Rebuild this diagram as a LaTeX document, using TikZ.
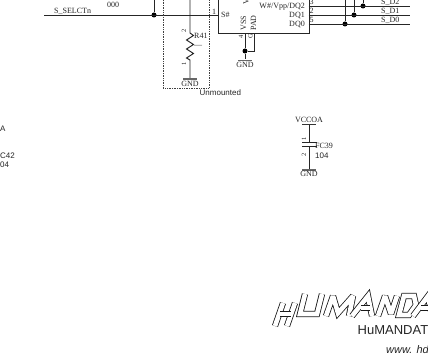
\documentclass[tikz,border=0pt]{standalone}
\usepackage{fontspec}
\setmainfont{Liberation Serif}
\setsansfont{Liberation Sans}
\begin{document}
\begin{tikzpicture}[x=1pt,y=-1pt,
  wire/.style={draw=black!85,line width=0.95pt},
  dot/.style={circle,fill=black,inner sep=0pt,minimum size=5pt},
  lbl/.style={inner sep=0pt,font=\fontsize{8}{8}\selectfont,text=black!85},
  lblw/.style={lbl,anchor=mid west},
  lble/.style={lbl,anchor=mid east},
  sanslbl/.style={inner sep=0pt,anchor=mid west,font=\sffamily\fontsize{8}{8}\selectfont,text=black!85},
  small/.style={lbl,font=\fontsize{6.5}{6.5}\selectfont,rotate=90},
  logo/.style={draw=black!90,line width=0.8pt,double=white,double distance=4.6pt,line join=miter,miter limit=3}]
\useasboundingbox (0,0) rectangle (428,358);
\clip (0,0) rectangle (428,358);
\fill[white] (0,0) rectangle (428,358);

% S_SELCTn net
\coordinate (selL) at (44,15);
\coordinate (selT) at (154,0);
\node[dot] (selJ) at (154,15) {};
\coordinate (pin1) at (217.5,15);
\draw[wire] (selL) -- (pin1);
\draw[wire] (selT) -- (selJ);
\node[lblw] (selN) at (54,11) {S\_SELCTn};
\node[lbl] (z) at (113,4.5) {000};

% Unmounted box
\coordinate (bxTL) at (163,0);
\coordinate (bxBL) at (163,88);
\coordinate (bxBR) at (209,88);
\coordinate (bxTR) at (209,0);
\draw[black!75,line width=0.7pt,densely dotted] (bxTL) -- (bxBL) -- (bxBR) -- (bxTR);
\node[sanslbl] (unm) at (199.5,93) {Unmounted};

% R41
\coordinate (rT) at (190,0);
\coordinate (rA) at (190,33);
\coordinate (rB) at (190,60);
\node[inner sep=0pt,minimum width=14pt,minimum height=1.6pt,fill=black!60] (g1) at (190,79) {};
\draw[wire] (rT) -- (rA) -- ++(3.5,2.5) -- ++(-7,4.5) -- ++(7,4.5) -- ++(-7,4.5) -- ++(7,4.5) -- ++(-7,4.5) -- (rB) -- (g1);
\node[lbl] (gnd1) at (190,83.5) {GND};
\node[lblw] (r41) at (194,36.5) {R41};
\node[lbl] (rv) at (198,46.5) {---};
\node[small] (r2) at (184,31) {2};
\node[small] (r1) at (184,64) {1};

% IC
\node[draw=black!85,line width=0.9pt,minimum width=91pt,minimum height=50pt,inner sep=0pt,anchor=south west] (ic) at (217.5,33.5) {};
\node[lbl] (n1) at (214,12) {1};
\node[lblw] (sh) at (221,15) {S\#};
\node[lbl,rotate=90] (vss) at (243.5,23) {VSS};
\node[lbl,rotate=90] (pad) at (253.5,23) {PAD};
\node[lbl,rotate=90] (vtop) at (246,1.5) {V};
\node[lble] (dq2) at (305,6) {W\#/Vpp/DQ2};
\node[lble] (dq1) at (305,15) {DQ1};
\node[lble] (dq0) at (305,24) {DQ0};
\node[small] (n4) at (241,36.5) {4};
\node[small] (nG) at (250.5,36.5) {G};
\node[lbl] (n3) at (311.5,2) {3};
\node[lbl] (n2) at (311.5,11) {2};
\node[lbl] (n5) at (311.5,20) {5};

% GND under IC
\coordinate (vssB) at (245,33.5);
\coordinate (padB) at (254,33.5);
\node[dot] (gJ) at (245,51) {};
\node[inner sep=0pt,minimum width=14pt,minimum height=1.6pt,fill=black!60] (g2) at (245,60.5) {};
\draw[wire] (vssB) -- (gJ);
\draw[wire] (padB) |- (gJ);
\draw[wire] (gJ) -- (g2);
\node[lbl] (gnd2) at (245,65) {GND};

% Data nets
\coordinate (d2a) at (308.5,6);
\coordinate (d1a) at (308.5,15);
\coordinate (d0a) at (308.5,24);
\coordinate (d2b) at (409.5,6);
\coordinate (d1b) at (409.5,15);
\coordinate (d0b) at (409.5,24);
\node[dot] (j2) at (363,6) {};
\node[dot] (j1) at (354,15) {};
\node[dot] (j0) at (345,24) {};
\coordinate (t2) at (363,0);
\coordinate (t1) at (354,0);
\coordinate (t0) at (345,0);
\draw[wire] (d2a) -- (d2b);
\draw[wire] (d1a) -- (d1b);
\draw[wire] (d0a) -- (d0b);
\draw[wire] (t2) -- (j2);
\draw[wire] (t1) -- (j1);
\draw[wire] (t0) -- (j0);
\node[lblw] (s2) at (381,2) {S\_D2};
\node[lblw] (s1) at (381,11) {S\_D1};
\node[lblw] (s0) at (381,20) {S\_D0};

% FC39
\node[lbl] (vcc) at (309,120) {VCCOA};
\node[inner sep=0pt,minimum width=14pt,minimum height=0.9pt,fill=black!80] (vb) at (309,124.5) {};
\node[inner sep=0pt,minimum width=15pt,minimum height=1.2pt,fill=black!85] (p1) at (309,142.5) {};
\node[inner sep=0pt,minimum width=15pt,minimum height=1.2pt,fill=black!85] (p2) at (309,146.5) {};
\node[inner sep=0pt,minimum width=14pt,minimum height=1.6pt,fill=black!60] (g3) at (309,170) {};
\draw[wire] (vb) -- (p1);
\draw[wire] (p2) -- (g3);
\node[lbl] (gnd3) at (309,174) {GND};
\node[lblw] (fc) at (315,146) {FC39};
\node[sanslbl] (v104) at (315,156) {104};
\node[small] (c1) at (304,139) {1};
\node[small] (c2) at (304,155) {2};

% cut-off part at the left
\node[sanslbl] (a) at (0,129) {A};
\node[sanslbl] (c42) at (0,156) {C42};
\node[sanslbl] (v04) at (0,165.5) {04};

% Logo
\draw[logo] (275,326) -- (283,303);
\draw[logo] (287,326) -- (295,303);
\draw[logo] (280,314) -- (291,314);
\draw[logo] (305,294) -- (300,314) -- (317,314) -- (322,294);
\draw[logo] (326,316) -- (333,296) -- (338,313) -- (353,296) -- (349,316);
\draw[logo] (352,316) -- (368,296) -- (372,316);
\draw[logo] (361,308) -- (370,308);
\draw[logo] (378,316) -- (385,296) -- (391,314) -- (397,296);
\draw[logo] (404,296) -- (399,315) -- (409,315) -- (416,305) -- (414,296) -- cycle;
\draw[logo] (413,316) -- (428,296) -- (432,316);
\draw[logo] (421,308) -- (430,308);

\node[sanslbl,font=\sffamily\fontsize{13}{13}\selectfont] (hum) at (357.5,332) {HuMANDAT};
\node[sanslbl,font=\sffamily\itshape\fontsize{11}{11}\selectfont] (www) at (386,351) {www. hd};
\end{tikzpicture}
\end{document}
